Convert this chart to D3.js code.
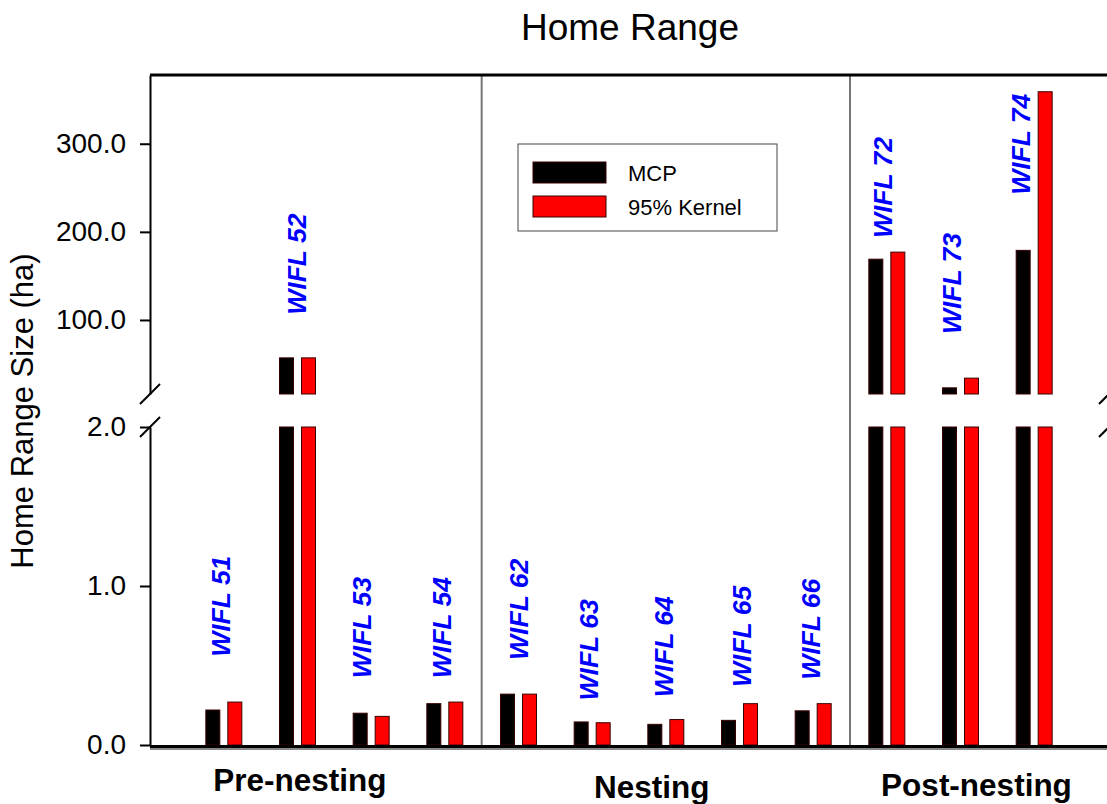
<!DOCTYPE html>
<html>
<head>
<meta charset="utf-8">
<script src="https://cdn.jsdelivr.net/npm/d3@7"></script>
<style>
  body { margin: 0; background: #fff; }
  svg { display: block; font-family: "Liberation Sans", Arial, sans-serif; }
</style>
</head>
<body>
<div class="chart"></div>
<script>
const width = 1107;
const height = 804;

                                        // DATA //
const categories = ["WIFL 51", "WIFL 52", "WIFL 53", "WIFL 54",
                    "WIFL 62", "WIFL 63", "WIFL 64", "WIFL 65", "WIFL 66",
                    "WIFL 72", "WIFL 73", "WIFL 74"];
const phaseOf = ["Pre-nesting", "Pre-nesting", "Pre-nesting", "Pre-nesting",
                 "Nesting", "Nesting", "Nesting", "Nesting", "Nesting",
                 "Post-nesting", "Post-nesting", "Post-nesting"];
const phases = ["Pre-nesting", "Nesting", "Post-nesting"];
const series = ["MCP", "95% Kernel"];
const mcp    = [0.22, 57, 0.20, 0.26, 0.32, 0.145, 0.13, 0.155, 0.215, 169, 23, 179];
const kernel = [0.27, 57, 0.18, 0.27, 0.32, 0.14, 0.16, 0.26, 0.26, 177, 34, 359];
// where each bird label starts, in axis units
const labelAt = [0.555, 106, 0.42, 0.42, 0.535, 0.28, 0.30, 0.365, 0.41, 193, 84, 242];
const lowerTicks = [0, 1, 2];
const upperTicks = [100, 200, 300];

const colors = {"MCP": "#000000", "95% Kernel": "#ff0000"};

// hand placement of the text, in pixels
const labelNudge = [-3, -1, -9, -3, 0, -3, -2, 2, -2, -4, -9, -13];
const phaseNudge = [[-16, 791], [-14, 798], [-2, 796]];

                                        // SVG //
const svg = d3.select(".chart")
    .append("svg")
    .attr("width", width)
    .attr("height", height)
    .attr("viewBox", [0, 0, width, height]);

const plotLeft = 150, plotRight = 1109, plotTop = 75, plotBottom = 745;
const breakLow = 427, breakHigh = 394;

                                        // SCALES //
const x = d3.scaleBand().domain(categories).range([187, 1071]);
const xs = d3.scaleBand().domain(series).range([-18, 18]).paddingInner(8 / 22);
const yLow = d3.scaleLinear().domain([0, 2]).range([plotBottom, breakLow]);
const yHigh = d3.scaleLinear().domain([16, 378]).range([breakHigh, plotTop]);

const broken = v => v <= 2 ? yLow(v) : yHigh(v);

// bars: one or two pieces depending on the break
const bars = [];
categories.forEach((c, i) => {
    [mcp[i], kernel[i]].forEach((v, j) => {
        const s = series[j];
        const bx = x(c) + x.bandwidth() / 2 + xs(s);
        if (v <= 2) {
            bars.push({x: bx, y0: yLow(v), y1: yLow(0), s});
        } else {
            bars.push({x: bx, y0: yLow(2), y1: yLow(0), s});
            bars.push({x: bx, y0: yHigh(v), y1: yHigh(16), s});
        }
    });
});

svg.append("g")
    .selectAll("rect")
    .data(bars)
    .join("rect")
    .attr("x", d => d.x)
    .attr("y", d => d.y0)
    .attr("width", xs.bandwidth())
    .attr("height", d => d.y1 - d.y0)
    .attr("fill", d => colors[d.s])
    .attr("stroke", "#3a0000")
    .attr("stroke-width", 1);

                                        // PHASE DIVIDERS //
const firstOf = phases.slice(1).map(p => categories[phaseOf.indexOf(p)]);
svg.append("g")
    .selectAll("line")
    .data(firstOf)
    .join("line")
    .attr("x1", d => x(d)).attr("x2", d => x(d))
    .attr("y1", plotTop).attr("y2", plotBottom)
    .attr("stroke", "#777")
    .attr("stroke-width", 2);

                                        // FRAME //
svg.append("line")
    .attr("x1", plotLeft).attr("x2", plotRight)
    .attr("y1", plotTop).attr("y2", plotTop)
    .attr("stroke", "#000").attr("stroke-width", 3);
svg.append("line")
    .attr("x1", plotLeft).attr("x2", plotRight)
    .attr("y1", plotBottom + 1.5).attr("y2", plotBottom + 1.5)
    .attr("stroke", "#000").attr("stroke-width", 3);
svg.append("line")
    .attr("x1", plotLeft).attr("x2", plotRight)
    .attr("y1", plotBottom + 4).attr("y2", plotBottom + 4)
    .attr("stroke", "#888").attr("stroke-width", 2);

                                        // Y AXES //
const fmt = d3.format(".1f");
[[yLow, lowerTicks], [yHigh, upperTicks]].forEach(([sc, tv]) => {
    const g = svg.append("g")
        .attr("transform", `translate(${plotLeft},0)`)
        .call(d3.axisLeft(sc).tickValues(tv).tickFormat(fmt)
            .tickSize(10).tickSizeOuter(0).tickPadding(14));
    g.select(".domain").attr("stroke", "#000").attr("stroke-width", 2);
    g.selectAll(".tick line").attr("stroke", "#000").attr("stroke-width", 2);
    g.selectAll(".tick text")
        .attr("font-size", 28)
        .attr("font-family", "'Liberation Sans', Arial, sans-serif")
        .attr("fill", "#000");
});

// break marks
[plotLeft, plotRight].forEach(ax => {
    [breakHigh, breakLow].forEach(by => {
        svg.append("line")
            .attr("x1", ax - 10).attr("y1", by + 10)
            .attr("x2", ax + 10).attr("y2", by - 10)
            .attr("stroke", "#000").attr("stroke-width", 2);
    });
});

                                        // LABELS //
svg.append("g")
    .selectAll("text")
    .data(categories)
    .join("text")
    .attr("transform", (d, i) =>
        `translate(${x(d) + x.bandwidth() / 2 + labelNudge[i]},${broken(labelAt[i])}) rotate(-90)`)
    .attr("dy", "0.35em")
    .attr("fill", "#0000ff")
    .attr("font-size", 26.5)
    .attr("font-weight", "bold")
    .attr("font-style", "italic")
    .text(d => d);

// phase names under the axis
svg.append("g")
    .selectAll("text")
    .data(phases)
    .join("text")
    .attr("x", (p, i) => {
        const a = i === 0 ? plotLeft : x(categories[phaseOf.indexOf(p)]);
        const b = i < phases.length - 1 ? x(firstOf[i]) : width;
        return (a + b) / 2 + phaseNudge[i][0];
    })
    .attr("y", (p, i) => phaseNudge[i][1])
    .attr("text-anchor", "middle")
    .attr("font-size", 31.5)
    .attr("font-weight", "bold")
    .text(d => d);

svg.append("text")
    .attr("x", 630).attr("y", 40)
    .attr("text-anchor", "middle")
    .attr("font-size", 37)
    .text("Home Range");

svg.append("text")
    .attr("transform", "translate(33,411) rotate(-90)")
    .attr("text-anchor", "middle")
    .attr("font-size", 31)
    .text("Home Range Size (ha)");

                                        // LEGEND //
const legend = svg.append("g").attr("transform", "translate(518,144)");
legend.append("rect")
    .attr("width", 259).attr("height", 87)
    .attr("fill", "#fff")
    .attr("stroke", "#444").attr("stroke-width", 1);
const item = legend.selectAll("g.item")
    .data(series)
    .join("g")
    .attr("class", "item")
    .attr("transform", (d, i) => `translate(15,${18 + i * 34})`);
item.append("rect")
    .attr("width", 73).attr("height", 21)
    .attr("fill", d => colors[d])
    .attr("stroke", "#3a0000").attr("stroke-width", 1);
item.append("text")
    .attr("x", 95).attr("y", 11)
    .attr("dy", "0.35em")
    .attr("font-size", 22)
    .text(d => d);
</script>
</body>
</html>
